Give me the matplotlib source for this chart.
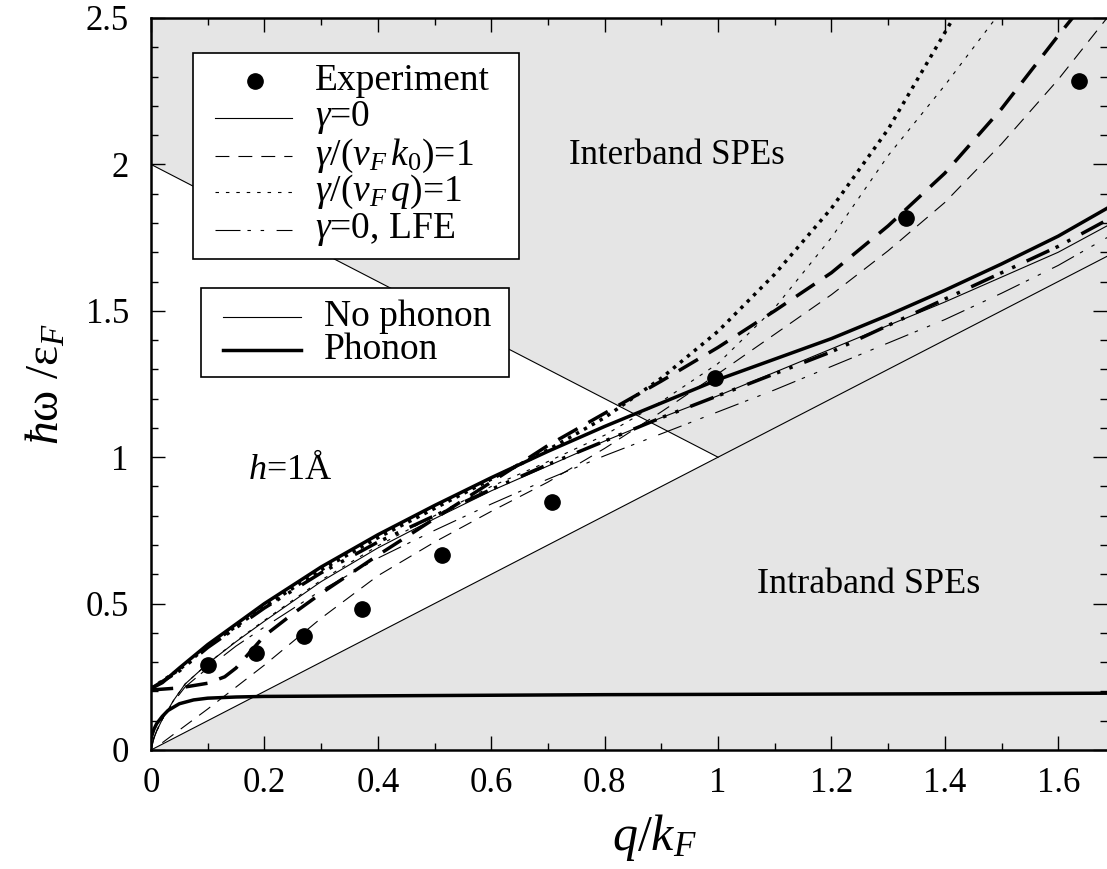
import numpy as np
import matplotlib
matplotlib.use("Agg")
import matplotlib.pyplot as plt
from matplotlib.patches import Rectangle
from matplotlib.ticker import MultipleLocator, FormatStrFormatter

plt.rcParams.update({
    'font.family': ['Liberation Serif', 'DejaVu Serif'],
    'mathtext.fontset': 'custom',
    'mathtext.rm': 'Liberation Serif',
    'mathtext.it': 'Liberation Serif:italic',
    'mathtext.bf': 'Liberation Serif:bold',
    'lines.scale_dashes': False,
})

# experiment
q_exp = [0.101, 0.186, 0.270, 0.373, 0.513, 0.707, 0.995, 1.332, 1.637]
w_exp = [0.290, 0.332, 0.389, 0.480, 0.666, 0.848, 1.269, 1.816, 2.285]

# gamma = 0, no phonon
q_g0 = [0, 0.005, 0.01, 0.02, 0.04, 0.06, 0.1, 0.15, 0.2, 0.3, 0.4, 0.5, 0.6, 0.7, 0.8,
        0.9, 1.0, 1.1, 1.2, 1.3, 1.4, 1.5, 1.6, 1.686]
w_g0 = [0, 0.04, 0.065, 0.105, 0.17, 0.225, 0.295, 0.37, 0.44, 0.575, 0.69, 0.79, 0.885,
        0.97, 1.055, 1.135, 1.21, 1.29, 1.37, 1.45, 1.53, 1.615, 1.70, 1.79]

# gamma = 0, phonon (upper and lower branch)
q_g0_ph = [0, 0.02, 0.05, 0.1, 0.15, 0.2, 0.3, 0.4, 0.5, 0.6, 0.7, 0.8, 0.9, 1.0, 1.1,
           1.2, 1.3, 1.4, 1.5, 1.6, 1.686]
w_g0_ph = [0.21, 0.23, 0.28, 0.36, 0.43, 0.50, 0.625, 0.735, 0.835, 0.93, 1.02, 1.105,
           1.185, 1.265, 1.335, 1.405, 1.485, 1.57, 1.66, 1.755, 1.85]
q_ph_low = [0, 0.005, 0.01, 0.02, 0.03, 0.05, 0.075, 0.1, 0.15, 0.2, 0.4, 0.6, 0.8, 1.0,
            1.2, 1.4, 1.686]
w_ph_low = [0.04, 0.07, 0.09, 0.115, 0.135, 0.158, 0.171, 0.177, 0.181, 0.183, 0.185,
            0.187, 0.189, 0.19, 0.191, 0.192, 0.194]

# gamma/(vF k0) = 1
q_k0 = [0.02, 0.1, 0.2, 0.3, 0.4, 0.5, 0.6, 0.7, 0.8, 0.9, 1.0, 1.1, 1.2, 1.3, 1.4, 1.5,
        1.6, 1.686]
w_k0 = [0.025, 0.14, 0.29, 0.45, 0.595, 0.71, 0.815, 0.915, 1.03, 1.155, 1.285, 1.42,
        1.555, 1.705, 1.87, 2.07, 2.29, 2.5]
q_k0_ph = [0, 0.05, 0.1, 0.13, 0.15, 0.2, 0.25, 0.3, 0.4, 0.5, 0.6, 0.7, 0.8, 0.9, 1.0,
           1.1, 1.2, 1.3, 1.4, 1.5, 1.6, 1.625]
w_k0_ph = [0.205, 0.212, 0.228, 0.25, 0.28, 0.39, 0.465, 0.535, 0.665, 0.79, 0.915, 1.04,
           1.15, 1.26, 1.375, 1.50, 1.63, 1.79, 1.97, 2.19, 2.44, 2.5]

# gamma/(vF q) = 1
q_q = [0, 0.005, 0.01, 0.02, 0.04, 0.06, 0.1, 0.15, 0.2, 0.3, 0.4, 0.5, 0.6, 0.7, 0.8,
       0.9, 1.0, 1.1, 1.2, 1.3, 1.4, 1.49]
w_q = [0, 0.04, 0.065, 0.105, 0.17, 0.225, 0.295, 0.372, 0.443, 0.58, 0.697, 0.80, 0.90,
       0.985, 1.075, 1.19, 1.32, 1.51, 1.75, 2.03, 2.27, 2.5]
q_q_ph = [0, 0.05, 0.1, 0.2, 0.3, 0.4, 0.5, 0.6, 0.7, 0.8, 0.9, 1.0, 1.1, 1.2, 1.3, 1.4,
          1.415]
w_q_ph = [0.21, 0.275, 0.355, 0.49, 0.615, 0.725, 0.825, 0.925, 1.025, 1.135, 1.27, 1.43,
          1.625, 1.85, 2.12, 2.45, 2.5]

# gamma = 0, LFE
q_lfe = [0, 0.005, 0.01, 0.02, 0.04, 0.06, 0.1, 0.15, 0.2, 0.3, 0.4, 0.5, 0.6, 0.7, 0.8,
         0.9, 1.0, 1.1, 1.2, 1.3, 1.4, 1.5, 1.6, 1.686]
w_lfe = [0, 0.04, 0.065, 0.105, 0.165, 0.215, 0.28, 0.355, 0.42, 0.545, 0.655, 0.75, 0.84,
         0.925, 1.005, 1.08, 1.155, 1.23, 1.31, 1.39, 1.47, 1.56, 1.655, 1.75]
q_lfe_ph = [0, 0.05, 0.1, 0.2, 0.3, 0.4, 0.5, 0.6, 0.7, 0.8, 0.9, 1.0, 1.1, 1.2, 1.3, 1.4,
            1.5, 1.6, 1.686]
w_lfe_ph = [0.21, 0.27, 0.35, 0.485, 0.605, 0.71, 0.80, 0.89, 0.975, 1.055, 1.135, 1.21,
            1.285, 1.36, 1.45, 1.54, 1.63, 1.72, 1.81]

# SPE boundaries
q_intra = [0, 1.686]
w_intra = [0, 1.686]
q_inter = [0, 1.0]
w_inter = [2.0, 1.0]

XMAX, YMAX = 1.686, 2.5
GRAY = '#e5e5e5'
THIN, THICK = 0.8, 2.5
DASH = (0, (10, 6.5))
DASH_PH = (0, (16, 9))
DOT = (0, (2.5, 5))
DOT_PH = (0, (2.5, 4))
DDOT = (0, (18, 5, 2.5, 7, 2.5, 9))
G = r'$\mathit{γ}$'

fig = plt.figure(figsize=(11.07, 8.69), dpi=100)
ax = fig.add_axes([151 / 1107, 1 - 750 / 869, 956 / 1107, 732 / 869])
ax.set_facecolor(GRAY)

# white triangle between intra- and interband SPE regions
ax.fill([0, 1, 0], [0, 1, 2], color='white', lw=0, zorder=0.5)
ax.plot(q_intra, w_intra, color='k', lw=0.8)
ax.plot(q_inter, w_inter, color='k', lw=0.8)

ax.plot(q_g0, w_g0, color='k', lw=THIN)
ax.plot(q_k0, w_k0, color='k', lw=THIN, ls=DASH)
ax.plot(q_q, w_q, color='k', lw=THIN, ls=DOT)
ax.plot(q_lfe, w_lfe, color='k', lw=THIN, ls=DDOT)

ax.plot(q_g0_ph, w_g0_ph, color='k', lw=THICK)
ax.plot(q_ph_low, w_ph_low, color='k', lw=THICK)
ax.plot(q_k0_ph, w_k0_ph, color='k', lw=THICK, ls=DASH_PH)
ax.plot(q_q_ph, w_q_ph, color='k', lw=THICK, ls=DOT_PH)
ax.plot(q_lfe_ph, w_lfe_ph, color='k', lw=THICK, ls=DDOT)

ax.plot(q_exp, w_exp, 'o', color='k', ms=11, zorder=5)

ax.text(0.928, 2.03, 'Interband SPEs', fontsize=25, ha='center', va='center')
ax.text(1.265, 0.565, 'Intraband SPEs', fontsize=26, ha='center', va='center')
ax.text(0.245, 0.955, r'$h$=1Å', fontsize=26, ha='center', va='center')

ax.set_xlim(0, XMAX)
ax.set_ylim(0, YMAX)
ax.xaxis.set_major_locator(MultipleLocator(0.2))
ax.xaxis.set_minor_locator(MultipleLocator(0.1))
ax.yaxis.set_major_locator(MultipleLocator(0.5))
ax.yaxis.set_minor_locator(MultipleLocator(0.1))
ax.xaxis.set_major_formatter(FormatStrFormatter('%g'))
ax.yaxis.set_major_formatter(FormatStrFormatter('%g'))
ax.tick_params(which='both', direction='in', top=True, right=True, width=1)
ax.tick_params(which='major', length=10)
ax.tick_params(which='minor', length=5)
ax.tick_params(axis='x', labelsize=25, pad=12)
ax.tick_params(axis='y', labelsize=25, pad=16)
for s in ax.spines.values():
    s.set_linewidth(1.8)
ax.spines['right'].set_visible(False)

ax.set_xlabel(r'$q/k_F$', fontsize=36)
ax.xaxis.set_label_coords(0.527, -0.085)
ax.set_ylabel(r'$\mathit{ħ}\mathrm{ω}\ /\mathrm{ε}_F$', fontsize=34, labelpad=12)


# legend boxes drawn by hand (gnuplot-like tight rows)
def key_box(x0, y0, x1, y1):
    ax.add_patch(Rectangle((x0, y1), x1 - x0, y0 - y1, transform=ax.transAxes,
                           facecolor='white', edgecolor='k', lw=1.2, zorder=6,
                           clip_on=False))


def key_row(xs, y, xt, label, **kw):
    ax.plot(xs, [y, y], transform=ax.transAxes, color='k', zorder=7, clip_on=False, **kw)
    ax.text(xt, y, label, transform=ax.transAxes, fontsize=27, va='center', zorder=7)


key_box(0.0439, 0.952, 0.3849, 0.6708)
ax.plot([0.1088], [0.9139], 'o', color='k', ms=11, transform=ax.transAxes, zorder=7)
ax.text(0.1715, 0.9139, 'Experiment', transform=ax.transAxes, fontsize=27,
        va='center', zorder=7)
sx = [0.0669, 0.1475]
key_row(sx, 0.8634, 0.1715, G + '=0', lw=THIN)
key_row(sx, 0.8115, 0.1715, G + r'/($v_F\,k_0$)=1', lw=THIN, ls=DASH)
key_row(sx, 0.7623, 0.1715, G + r'/($v_F\,q$)=1', lw=THIN, ls=DOT)
key_row(sx, 0.7104, 0.1715, G + '=0, LFE', lw=THIN, ls=DDOT)

key_box(0.0523, 0.6311, 0.3745, 0.5096)
sx = [0.0753, 0.1569]
key_row(sx, 0.5915, 0.181, 'No phonon', lw=THIN)
key_row(sx, 0.5464, 0.181, 'Phonon', lw=THICK)

fig.savefig('out.png', dpi=100)
